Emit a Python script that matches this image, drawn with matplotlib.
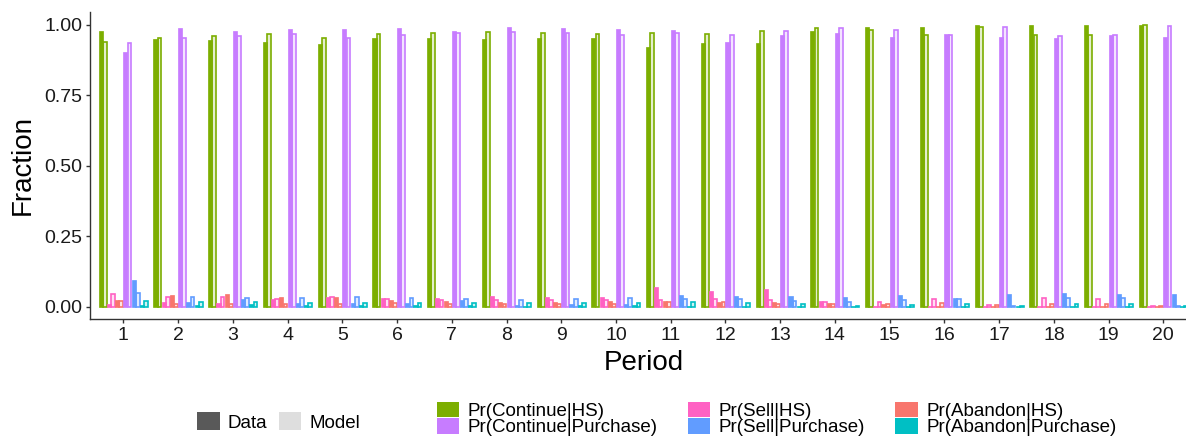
import numpy as np
import matplotlib
matplotlib.use("Agg")
import matplotlib.pyplot as plt
from matplotlib.patches import Patch
from matplotlib.colors import to_rgba

plt.rcParams['font.family'] = ['Liberation Sans', 'DejaVu Sans']

periods = list(range(1, 21))

continue_hs_data = [0.979, 0.949, 0.948, 0.941, 0.934, 0.955, 0.955, 0.950, 0.953, 0.953,
                    0.921, 0.937, 0.937, 0.978, 0.993, 0.994, 0.999, 1.000, 1.000, 0.999]
continue_hs_model = [0.941, 0.955, 0.960, 0.967, 0.955, 0.967, 0.972, 0.974, 0.972, 0.967,
                     0.971, 0.969, 0.979, 0.988, 0.982, 0.965, 0.994, 0.964, 0.965, 0.999]
sell_hs_data = [0.009, 0.019, 0.015, 0.028, 0.037, 0.031, 0.031, 0.040, 0.037, 0.037,
                0.072, 0.058, 0.064, 0.021, 0.005, 0.005, 0.004, 0.004, 0.004, 0.004]
sell_hs_model = [0.046, 0.034, 0.034, 0.028, 0.037, 0.028, 0.025, 0.024, 0.026, 0.025,
                 0.025, 0.028, 0.026, 0.017, 0.017, 0.028, 0.007, 0.031, 0.028, 0.005]
abandon_hs_data = [0.024, 0.041, 0.046, 0.037, 0.034, 0.025, 0.022, 0.017, 0.019, 0.021,
                   0.021, 0.019, 0.017, 0.014, 0.009, 0.005, 0.004, 0.005, 0.005, 0.005]
abandon_hs_model = [0.022, 0.010, 0.010, 0.010, 0.010, 0.013, 0.012, 0.011, 0.012, 0.012,
                    0.017, 0.017, 0.012, 0.011, 0.009, 0.013, 0.007, 0.012, 0.012, 0.005]
continue_p_data = [0.905, 0.988, 0.979, 0.986, 0.986, 0.988, 0.979, 0.994, 0.988, 0.986,
                   0.981, 0.941, 0.965, 0.970, 0.957, 0.967, 0.957, 0.955, 0.964, 0.957]
continue_p_model = [0.937, 0.955, 0.960, 0.967, 0.955, 0.965, 0.971, 0.974, 0.970, 0.965,
                    0.970, 0.966, 0.978, 0.988, 0.982, 0.964, 0.993, 0.960, 0.964, 0.998]
sell_p_data = [0.095, 0.017, 0.028, 0.015, 0.015, 0.014, 0.025, 0.007, 0.012, 0.012,
               0.043, 0.040, 0.038, 0.035, 0.043, 0.033, 0.047, 0.050, 0.045, 0.045]
sell_p_model = [0.048, 0.037, 0.033, 0.033, 0.037, 0.031, 0.028, 0.024, 0.028, 0.031,
                0.028, 0.028, 0.021, 0.019, 0.025, 0.028, 0.004, 0.033, 0.031, 0.003]
abandon_p_data = [0.007, 0.007, 0.009, 0.007, 0.007, 0.007, 0.007, 0.005, 0.007, 0.007,
                  0.005, 0.005, 0.005, 0.005, 0.004, 0.004, 0.004, 0.004, 0.004, 0.004]
abandon_p_model = [0.022, 0.018, 0.018, 0.014, 0.014, 0.014, 0.013, 0.013, 0.013, 0.014,
                   0.017, 0.014, 0.012, 0.005, 0.007, 0.009, 0.004, 0.009, 0.009, 0.003]

categories = ['Pr(Continue|HS)', 'Pr(Sell|HS)', 'Pr(Abandon|HS)',
              'Pr(Continue|Purchase)', 'Pr(Sell|Purchase)', 'Pr(Abandon|Purchase)']
colors = ['#7CAE00', '#FF61C3', '#F8766D', '#C77CFF', '#619CFF', '#00BFC4']
data_series = [continue_hs_data, sell_hs_data, abandon_hs_data,
               continue_p_data, sell_p_data, abandon_p_data]
model_series = [continue_hs_model, sell_hs_model, abandon_hs_model,
                continue_p_model, sell_p_model, abandon_p_model]
types = ['Data', 'Model']

W, H = 1186, 441
fig = plt.figure(figsize=(W / 100, H / 100), dpi=100)
ax_left, ax_right = 90.5, 1196.2
ax_top, ax_bot = 12, 319
ax = fig.add_axes([ax_left / W, 1 - ax_bot / H, (ax_right - ax_left) / W, (ax_bot - ax_top) / H])

x = np.array(periods, dtype=float)
group_w = 0.9
nb = 12
bw = group_w / nb
k = 0
for ci in range(6):
    for ti, series in enumerate([data_series[ci], model_series[ci]]):
        pos = x - group_w / 2 + (k + 0.5) * bw
        if ti == 0:
            ax.bar(pos, series, width=bw, color=colors[ci], edgecolor=colors[ci], linewidth=0.5)
        else:
            ax.bar(pos, series, width=bw * 0.92, facecolor=to_rgba(colors[ci], 0.2),
                   edgecolor=colors[ci], linewidth=1.2)
        k += 1

ax.set_xlim(0.4, 20.6)
ax.set_ylim(-0.0426, 1.046)
ax.set_xticks(periods)
ax.set_xticklabels([str(p) for p in periods])
ax.set_yticks([0, 0.25, 0.5, 0.75, 1.0])
ax.set_yticklabels(['0.00', '0.25', '0.50', '0.75', '1.00'])
ax.tick_params(axis='both', labelsize=14, length=3, width=1, color='#333333', pad=3,
               labelcolor='#1a1a1a')
for s in ['top', 'right']:
    ax.spines[s].set_visible(False)
for s in ['left', 'bottom']:
    ax.spines[s].set_linewidth(1.0)
    ax.spines[s].set_color('#333333')
ax.set_ylabel('Fraction', fontsize=20, labelpad=6)
ax.set_xlabel('Period', fontsize=20, labelpad=4)

# legends
type_handles = [Patch(facecolor='#595959', edgecolor='none'),
                Patch(facecolor='#DEDEDE', edgecolor='none')]
leg1 = fig.legend(type_handles, types, loc='center left',
                  bbox_to_anchor=(197 / W, 1 - 422 / H), frameon=False, ncol=2,
                  fontsize=13.5, handlelength=1.2, handleheight=1.1, handletextpad=0.45,
                  columnspacing=0.6, borderpad=0, borderaxespad=0)

order = [0, 3, 1, 4, 2, 5]
cat_handles = [Patch(facecolor=colors[i], edgecolor='none') for i in order]
cat_labels = [categories[i] for i in order]
leg2 = fig.legend(cat_handles, cat_labels, loc='center left',
                  bbox_to_anchor=(437 / W, 1 - 419 / H), frameon=False, ncol=3,
                  fontsize=13.5, handlelength=1.2, handleheight=0.9, handletextpad=0.45,
                  columnspacing=1.6, labelspacing=-0.1, borderpad=0, borderaxespad=0)

fig.savefig('out.png', dpi=100)
